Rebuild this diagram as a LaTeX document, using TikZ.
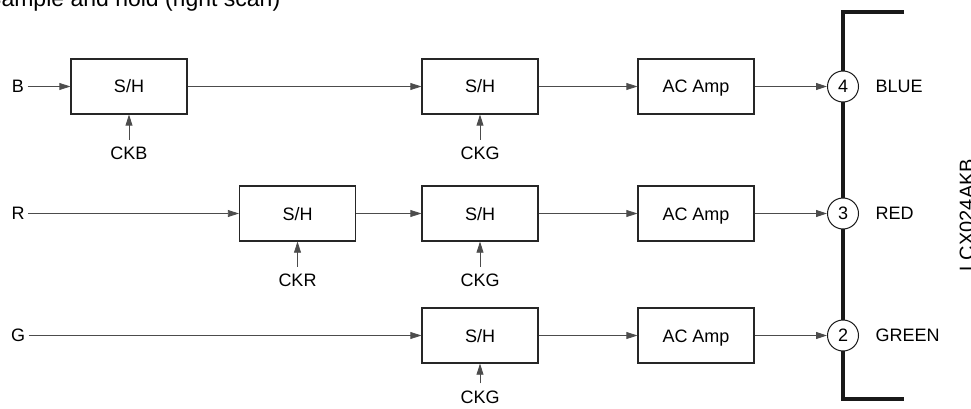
\documentclass[tikz,border=0pt]{standalone}
\usepackage{fontspec}
\setmainfont{Liberation Sans}
\usetikzlibrary{arrows.meta}
\begin{document}
\begin{tikzpicture}[x=1pt, y=-1pt, font=\fontsize{18}{21}\selectfont,
    blk/.style={draw=black!85, line width=1.3pt, minimum width=116pt, minimum height=55pt, inner sep=0pt, text height=13pt, text depth=0pt},
    sig/.style={draw=black!70, line width=0.8pt, -{Triangle[length=11pt, width=7pt]}},
    ck/.style={inner xsep=2pt, inner ysep=7pt},
    port/.style={circle, draw=black!90, line width=1pt, fill=white, minimum size=31pt, inner sep=0pt},
    bus/.style={draw=black!90, line width=3.5pt}]
    \useasboundingbox (0,0) rectangle (971,409);
    \node[anchor=base west, inner sep=0pt, font=\fontsize{23}{26}\selectfont] (title) at (-14,7) {Sample and hold (right scan)};
    \node[rotate=90, anchor=south, inner sep=0pt, font=\fontsize{20}{23}\selectfont] (code) at (974,215) {LCX024AKB};
    \node (inb) at (18,86.5) {B};
    \node (inr) at (18,213.5) {R};
    \node (ing) at (18,335.5) {G};
    \node[blk] (shb1) at (129,86.5) {S/H};
    \node[blk] (shb2) at (480,86.5) {S/H};
    \node[blk] (ampb) at (696,86.5) {AC Amp};
    \node[blk] (shr1) at (297.5,213.5) {S/H};
    \node[blk] (shr2) at (480,213.5) {S/H};
    \node[blk] (ampr) at (696,213.5) {AC Amp};
    \node[blk] (shg) at (480,335.5) {S/H};
    \node[blk] (ampg) at (696,335.5) {AC Amp};
    \node[ck] (ckb) at (129,153.5) {CKB};
    \node[ck] (ckgb) at (480,153.5) {CKG};
    \node[ck] (ckr) at (297.5,280.5) {CKR};
    \node[ck] (ckgr) at (480,280.5) {CKG};
    \node[ck] (ckgg) at (480,397) {CKG};
    \coordinate (bt) at (904,12);
    \coordinate (tl) at (843,12);
    \coordinate (bl) at (843,399);
    \coordinate (bb) at (904,399);
    \draw[bus] (bt) -- (tl) -- (bl) -- (bb);
    \node[port] (p4) at (843,86.5) {4};
    \node[port] (p3) at (843,213.5) {3};
    \node[port] (p2) at (843,335.5) {2};
    \node[anchor=west] (blue) at (872,86.5) {BLUE};
    \node[anchor=west] (red) at (872,213.5) {RED};
    \node[anchor=west] (green) at (872,335.5) {GREEN};
    \path (inb) edge[sig] (shb1);
    \path (shb1) edge[sig] (shb2);
    \path (shb2) edge[sig] (ampb);
    \path (ampb) edge[sig] (p4);
    \path (inr) edge[sig] (shr1);
    \path (shr1) edge[sig] (shr2);
    \path (shr2) edge[sig] (ampr);
    \path (ampr) edge[sig] (p3);
    \path (ing) edge[sig] (shg);
    \path (shg) edge[sig] (ampg);
    \path (ampg) edge[sig] (p2);
    \path (ckb) edge[sig] (shb1);
    \path (ckgb) edge[sig] (shb2);
    \path (ckr) edge[sig] (shr1);
    \path (ckgr) edge[sig] (shr2);
    \path (ckgg) edge[sig] (shg);
\end{tikzpicture}
\end{document}
